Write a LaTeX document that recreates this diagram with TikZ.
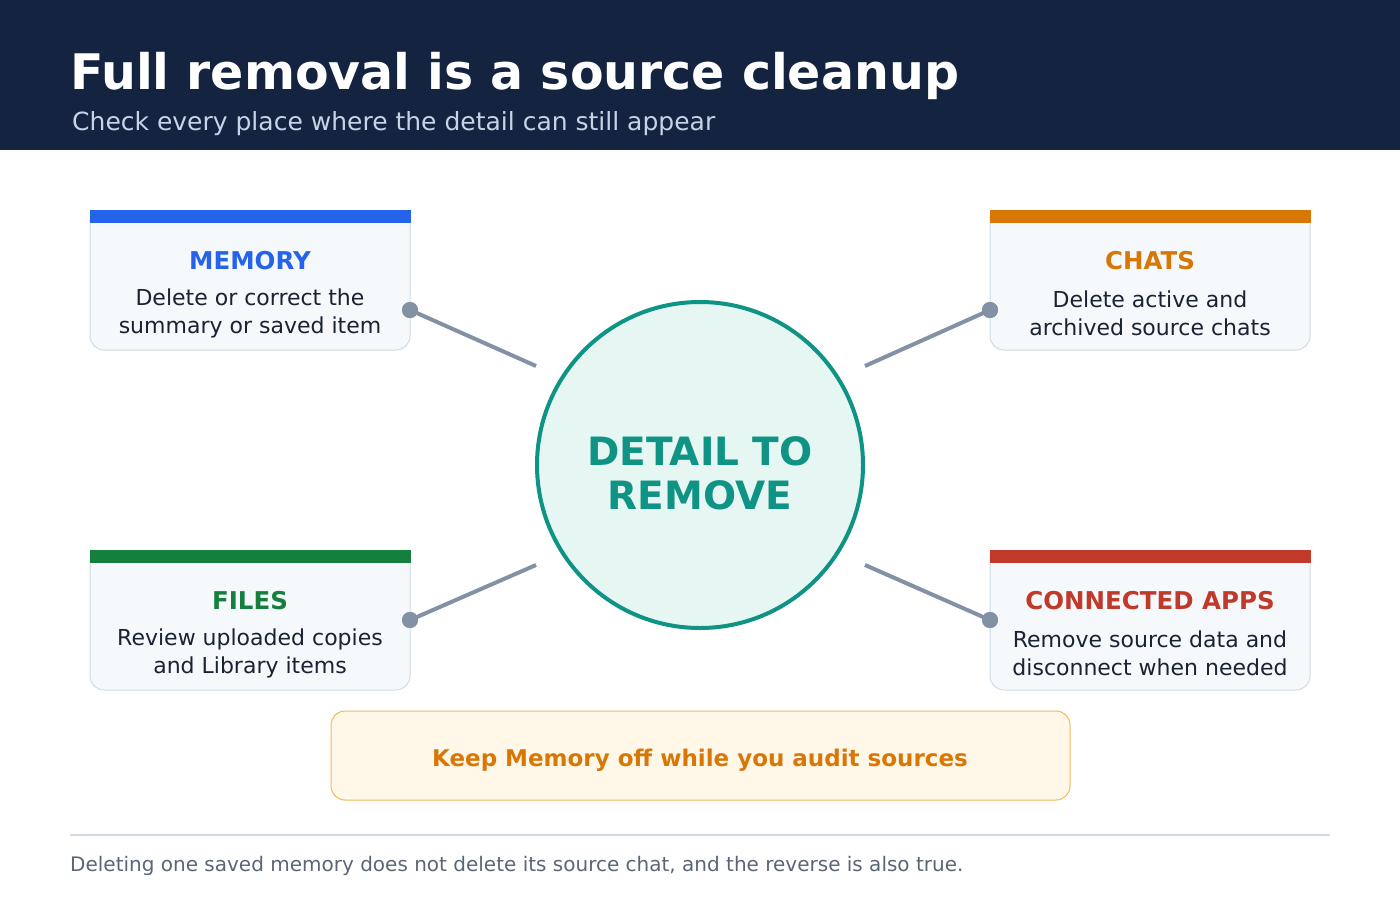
\documentclass[tikz,border=0pt]{standalone}
\usepackage{fontspec}
\setmainfont{DejaVu Sans}
\begin{document}
\definecolor{hdr}{HTML}{14233F}
\definecolor{sub}{HTML}{C8D3E6}
\definecolor{cardf}{HTML}{F5F9FC}
\definecolor{cardb}{HTML}{D0DAE4}
\definecolor{ink}{HTML}{1A2233}
\definecolor{cblue}{HTML}{2563EB}
\definecolor{corange}{HTML}{D97706}
\definecolor{cgreen}{HTML}{15803D}
\definecolor{cred}{HTML}{C0392B}
\definecolor{teal}{HTML}{0E9384}
\definecolor{tealf}{HTML}{E6F6F3}
\definecolor{conn}{HTML}{8391A4}
\definecolor{callf}{HTML}{FFF8E8}
\definecolor{callb}{HTML}{F0B95A}
\definecolor{foot}{HTML}{5A6678}
\begin{tikzpicture}[x=1pt,y=-1pt,
  card/.style={fill=cardf,draw=cardb,line width=1pt,rounded corners=14pt},
  ctitle/.style={anchor=base,font=\fontsize{24.5}{28}\selectfont\bfseries},
  ctext/.style={anchor=base,text=ink,font=\fontsize{22}{28}\selectfont,align=center},
  dot/.style={circle,fill=conn,inner sep=0,minimum size=16pt},
  link/.style={draw=conn,line width=4pt}]
\useasboundingbox (0,0) rectangle (1400,900);
\fill[hdr] (0,0) rectangle (1400,150);
\node[anchor=base west,text=white,font=\fontsize{49}{56}\selectfont\bfseries,inner sep=0] (title) at (70,89) {Full removal is a source cleanup};
\node[anchor=base west,text=sub,font=\fontsize{25}{28}\selectfont,inner sep=0] (subt) at (72,130) {Check every place where the detail can still appear};
% cards
\foreach \x/\y/\c in {90/210/cblue,990/210/corange,90/550/cgreen,990/550/cred}{
  \draw[card] (\x,\y+6) -- (\x,\y+140) -- (\x+320,\y+140) -- (\x+320,\y+6);
  \fill[\c] (\x,\y) rectangle (\x+321,\y+13);
}
\node[ctitle,text=cblue] (t1) at (250,269) {MEMORY};
\node[ctext] (d1) at (250,333) {Delete or correct the\\summary or saved item};
\node[ctitle,text=corange] (t2) at (1150,269) {CHATS};
\node[ctext] (d2) at (1150,335) {Delete active and\\archived source chats};
\node[ctitle,text=cgreen] (t3) at (250,609) {FILES};
\node[ctext] (d3) at (250,673) {Review uploaded copies\\and Library items};
\node[ctitle,text=cred] (t4) at (1150,609) {CONNECTED APPS};
\node[ctext] (d4) at (1150,675) {Remove source data and\\disconnect when needed};
% circle
\node[circle,fill=tealf,draw=teal,line width=4pt,minimum size=326pt,inner sep=0] (c) at (700,465) {};
\node[text=teal,font=\fontsize{39}{44}\selectfont\bfseries,align=center] (ct) at (700,473) {DETAIL TO\\REMOVE};
\node[dot] (p1) at (410,310) {};
\node[dot] (p2) at (990,310) {};
\node[dot] (p3) at (410,620) {};
\node[dot] (p4) at (990,620) {};
\coordinate (e1) at (536,366);
\coordinate (e2) at (865,366);
\coordinate (e3) at (536,565);
\coordinate (e4) at (865,565);
\path[link] (p1.center) -- (e1);
\path[link] (p2.center) -- (e2);
\path[link] (p3.center) -- (e3);
\path[link] (p4.center) -- (e4);
\foreach \p in {p1,p2,p3,p4}{\fill[conn] (\p) circle (8pt);}
% callout
\node[fill=callf,draw=callb,line width=1pt,rounded corners=14pt,minimum width=739pt,minimum height=89pt] (call) at (700.5,755.5) {};
\node[anchor=base,text=corange,font=\fontsize{23}{26}\selectfont\bfseries] (callt) at (700,766) {Keep Memory off while you audit sources};
\coordinate (l1) at (70,835); \coordinate (l2) at (1330,835);
\draw[cardb,line width=1.5pt] (l1) -- (l2);
\node[anchor=base west,inner sep=0,text=foot,font=\fontsize{20}{24}\selectfont] (ft) at (70,871) {Deleting one saved memory does not delete its source chat, and the reverse is also true.};
\end{tikzpicture}
\end{document}
